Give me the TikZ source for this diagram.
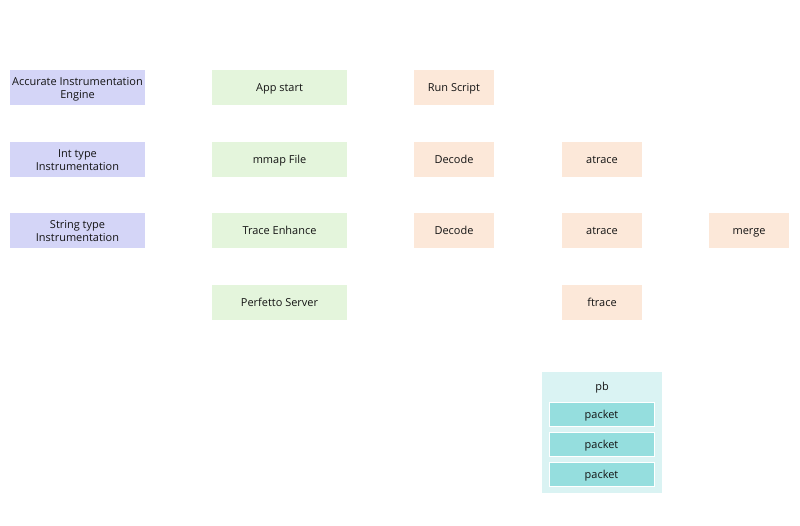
\documentclass[tikz,border=0pt]{standalone}
\usepackage{fontspec}
\setmainfont{Open Sans}
\definecolor{engblue}{HTML}{D4D5F7}
\definecolor{appgreen}{HTML}{E4F5DC}
\definecolor{decorange}{HTML}{FCE8D9}
\definecolor{pbcyan}{HTML}{DAF3F3}
\definecolor{pktcyan}{HTML}{95DEDE}
\tikzset{
  cell/.style={minimum height=35*0.025cm, inner sep=0pt, align=center,
    font=\fontsize{7.8}{9}\selectfont, text=black!92,
    text height=7.5pt, text depth=1.3pt},
  twoline/.style={text height=16.3pt},
  widebox/.style={cell, minimum width=135*0.025cm},
  smallbox/.style={cell, minimum width=80*0.025cm, fill=decorange},
  pkt/.style={cell, minimum width=105*0.025cm, minimum height=24*0.025cm,
    fill=pktcyan, draw=white, line width=0.5pt}
}

\begin{document}
\begin{tikzpicture}[x=0.025cm,y=-0.025cm]
  \useasboundingbox (0,0) rectangle (800,525);
  % engine column
  \node[widebox, twoline, fill=engblue] (engine) at (77.5,87.5) {Accurate Instrumentation\\Engine};
  \node[widebox, twoline, fill=engblue] (inttype) at (77.5,159.5) {Int type\\Instrumentation};
  \node[widebox, twoline, fill=engblue] (strtype) at (77.5,230.5) {String type\\Instrumentation};
  % app column
  \node[widebox, fill=appgreen] (appstart) at (279.5,87.5) {App start};
  \node[widebox, fill=appgreen] (mmap) at (279.5,159.5) {mmap File};
  \node[widebox, fill=appgreen] (enhance) at (279.5,230.5) {Trace Enhance};
  \node[widebox, fill=appgreen] (perfetto) at (279.5,302.5) {Perfetto Server};
  % decode column
  \node[smallbox] (script) at (454,87.5) {Run Script};
  \node[smallbox] (decodeA) at (454,159.5) {Decode};
  \node[smallbox] (decodeB) at (454,230.5) {Decode};
  % trace column
  \node[smallbox] (atraceA) at (602,159.5) {atrace};
  \node[smallbox] (atraceB) at (602,230.5) {atrace};
  \node[smallbox] (ftrace) at (602,302.5) {ftrace};
  \node[smallbox] (merge) at (749,230.5) {merge};
  % pb container
  \fill[pbcyan] (542,372) rectangle (662,493);
  \node[cell, minimum height=0pt] (pb) at (602,386) {pb};
  \foreach \y/\n in {414/pktA, 444/pktB, 474/pktC}
    \node[pkt] (\n) at (601.5,\y) {packet};
\end{tikzpicture}
\end{document}
